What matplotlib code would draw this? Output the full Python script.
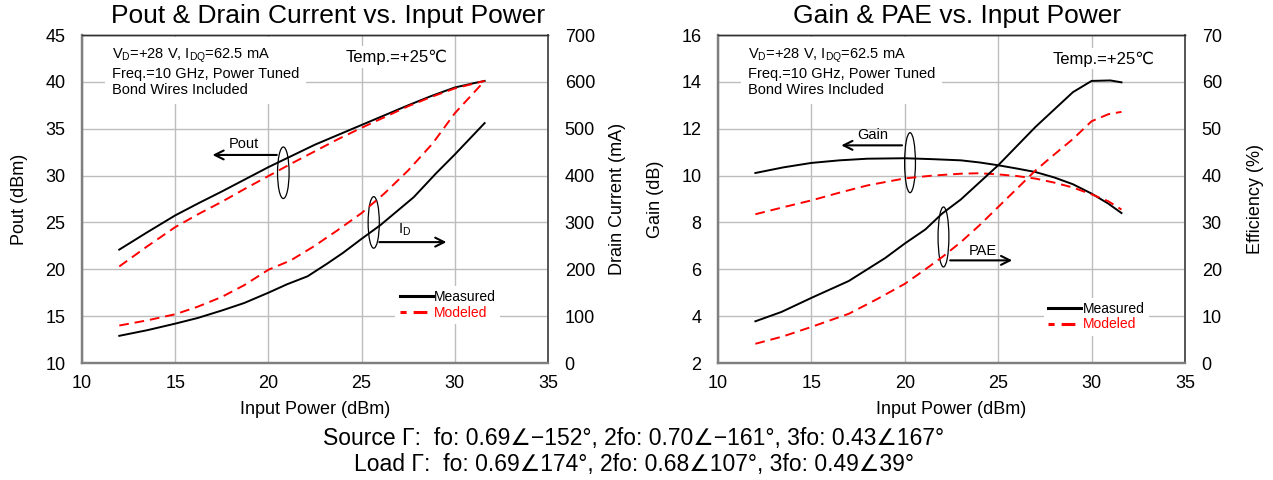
import matplotlib
matplotlib.use("Agg")
import matplotlib.pyplot as plt
from matplotlib.patches import Ellipse

plt.rcParams['font.family'] = ['Liberation Sans', 'DejaVu Sans']
plt.rcParams['mathtext.fontset'] = 'custom'
plt.rcParams['mathtext.rm'] = 'Liberation Sans'
plt.rcParams['mathtext.it'] = 'Liberation Sans'

# ---------------- data ----------------
# Left chart: Pout (dBm) and Drain current (mA) vs input power (dBm)
pout_meas_x = [12.0, 13.5, 15.0, 16.25, 17.5, 18.75, 20.0, 21.25, 22.5, 23.75, 25.0, 26.25, 27.5, 28.75, 30.0, 31.0, 31.6]
pout_meas_y = [22.1, 23.95, 25.75, 27.05, 28.3, 29.6, 30.9, 32.1, 33.3, 34.35, 35.4, 36.45, 37.5, 38.5, 39.4, 39.85, 40.1]
pout_mod_x = [12.0, 13.5, 15.0, 16.25, 17.5, 18.75, 20.0, 21.25, 22.5, 23.75, 25.0, 26.25, 27.5, 28.75, 30.0, 31.0, 31.6]
pout_mod_y = [20.3, 22.45, 24.5, 25.9, 27.2, 28.6, 29.95, 31.3, 32.6, 33.9, 35.1, 36.25, 37.4, 38.4, 39.3, 39.8, 40.1]
id_meas_x = [12.0, 13.5, 15.0, 16.2, 17.5, 18.7, 20.0, 21.0, 22.1, 23.15, 24.0, 25.0, 26.0, 27.8, 29.0, 30.0, 31.6]
id_meas_y = [58, 70, 84, 96, 112, 128, 150, 168, 185, 212, 235, 265, 294, 354, 405, 445, 512]
id_mod_x = [12.0, 13.5, 15.0, 16.2, 17.5, 18.7, 20.0, 21.2, 22.4, 23.7, 25.0, 26.2, 27.5, 28.8, 30.0, 31.6]
id_mod_y = [80, 91, 104, 120, 141, 166, 199, 219, 248, 283, 320, 361, 411, 468, 533, 602]

# Right chart: Gain (dB) and PAE (%) vs input power (dBm)
gain_meas_x = [12.0, 13.5, 15.0, 16.5, 18.0, 20.0, 21.5, 23.0, 24.0, 25.0, 26.0, 27.0, 28.0, 29.0, 30.0, 30.9, 31.6]
gain_meas_y = [10.11, 10.35, 10.54, 10.65, 10.72, 10.74, 10.70, 10.65, 10.56, 10.44, 10.30, 10.15, 9.92, 9.63, 9.23, 8.80, 8.40]
gain_mod_x = [12.0, 13.5, 15.0, 16.5, 18.0, 20.0, 21.5, 23.0, 24.0, 25.0, 26.0, 27.0, 28.0, 29.0, 30.0, 30.9, 31.6]
gain_mod_y = [8.35, 8.65, 8.94, 9.27, 9.58, 9.88, 10.00, 10.08, 10.10, 10.05, 9.98, 9.87, 9.70, 9.49, 9.20, 8.90, 8.55]
pae_meas_x = [12.0, 13.4, 15.0, 17.0, 18.95, 20.0, 21.1, 22.0, 23.0, 25.0, 27.0, 29.0, 30.0, 31.0, 31.6]
pae_meas_y = [8.9, 10.9, 13.9, 17.5, 22.4, 25.5, 28.5, 31.9, 34.9, 42.2, 50.4, 57.8, 60.2, 60.3, 59.9]
pae_mod_x = [12.0, 13.5, 15.0, 17.0, 18.5, 20.0, 21.0, 22.0, 23.0, 24.0, 25.0, 26.0, 27.0, 28.0, 29.0, 30.0, 30.9, 31.6]
pae_mod_y = [4.1, 5.7, 7.7, 10.5, 13.6, 16.9, 19.7, 22.6, 25.8, 29.4, 33.3, 37.2, 41.1, 44.5, 47.8, 51.6, 53.1, 53.6]

x_ticks = [10, 15, 20, 25, 30, 35]
pout_ticks = [10, 15, 20, 25, 30, 35, 40, 45]
id_ticks = [0, 100, 200, 300, 400, 500, 600, 700]
gain_ticks = [2, 4, 6, 8, 10, 12, 14, 16]
eff_ticks = [0, 10, 20, 30, 40, 50, 60, 70]

titles = ["Pout & Drain Current vs. Input Power", "Gain & PAE vs. Input Power"]
cond_text = ("V$_\\mathrm{D}$=+28 V, I$_\\mathrm{DQ}$=62.5 mA\n"
             "Freq.=10 GHz, Power Tuned\nBond Wires Included")
temp_text = "Temp.=+25\u2103"
source_text = "Source \u0393:  fo: 0.69\u2220\u2212152\u00b0, 2fo: 0.70\u2220\u2212161\u00b0, 3fo: 0.43\u2220167\u00b0"
load_text = "Load \u0393:  fo: 0.69\u2220174\u00b0, 2fo: 0.68\u2220107\u00b0, 3fo: 0.49\u222039\u00b0"

# ---------------- figure ----------------
W, H = 1273, 480
fig = plt.figure(figsize=(W / 100, H / 100), dpi=100)

def px_ax(x0, x1, ytop, ybot):
    return fig.add_axes([x0 / W, 1 - ybot / H, (x1 - x0) / W, (ybot - ytop) / H])

axL = px_ax(82, 548, 35, 363)
axR = px_ax(718, 1185, 35, 363)
axL2 = axL.twinx()
axR2 = axR.twinx()

TICKFS = 13
LW = 1.4
DASH = (0, (5, 3))

def style(ax, ax2):
    for a in (ax, ax2):
        a.tick_params(length=0, labelsize=TICKFS)
        a.tick_params(axis='y', pad=12)
        a.tick_params(axis='x', pad=9)
    ax.grid(True, color='#bdbdbd', lw=1.0)
    ax.set_axisbelow(True)
    for a in (ax, ax2):
        a.spines['left'].set_color('#7f7f7f')
        a.spines['bottom'].set_color('#7f7f7f')
        a.spines['left'].set_linewidth(1.6)
        a.spines['bottom'].set_linewidth(1.6)
        a.spines['top'].set_color('#303030')
        a.spines['right'].set_color('#555555')
        a.spines['top'].set_linewidth(1.0)
        a.spines['right'].set_linewidth(1.2)

# ----- left chart -----
style(axL, axL2)
axL.set_xlim(10, 35)
axL.set_ylim(10, 45)
axL2.set_ylim(0, 700)
axL.set_xticks(x_ticks)
axL.set_yticks(pout_ticks)
axL2.set_yticks(id_ticks)

axL.plot(pout_meas_x, pout_meas_y, color='black', lw=LW)
axL.plot(pout_mod_x, pout_mod_y, color='red', lw=LW, ls=DASH)
axL2.plot(id_meas_x, id_meas_y, color='black', lw=LW)
axL2.plot(id_mod_x, id_mod_y, color='red', lw=LW, ls=DASH)

axL.add_patch(Ellipse((20.8, 30.3), 0.62, 5.5, fill=False, ec='black', lw=0.9))
axL.annotate("", xy=(16.85, 32.2), xytext=(20.6, 32.2),
             arrowprops=dict(arrowstyle='->', color='black', lw=1.5, mutation_scale=16))
axL.text(18.7, 32.6, "Pout", fontsize=10.5, ha='center', va='bottom')
axL.add_patch(Ellipse((25.65, 25.0), 0.6, 5.5, fill=False, ec='black', lw=0.9))
axL.annotate("", xy=(29.7, 22.9), xytext=(25.8, 22.9),
             arrowprops=dict(arrowstyle='->', color='black', lw=1.5, mutation_scale=16))
axL.text(27.3, 23.3, "I$_\\mathrm{D}$", fontsize=10.5, ha='center', va='bottom')

# ----- right chart -----
style(axR, axR2)
axR.set_xlim(10, 35)
axR.set_ylim(2, 16)
axR2.set_ylim(0, 70)
axR.set_xticks(x_ticks)
axR.set_yticks(gain_ticks)
axR2.set_yticks(eff_ticks)

axR.plot(gain_meas_x, gain_meas_y, color='black', lw=LW)
axR.plot(gain_mod_x, gain_mod_y, color='red', lw=LW, ls=DASH)
axR2.plot(pae_meas_x, pae_meas_y, color='black', lw=LW)
axR2.plot(pae_mod_x, pae_mod_y, color='red', lw=LW, ls=DASH)

axR.add_patch(Ellipse((20.28, 10.55), 0.58, 2.56, fill=False, ec='black', lw=0.9))
axR.annotate("", xy=(16.45, 11.29), xytext=(20.0, 11.29),
             arrowprops=dict(arrowstyle='->', color='black', lw=1.5, mutation_scale=16))
axR.text(18.3, 11.42, "Gain", fontsize=10.5, ha='center', va='bottom')
axR.add_patch(Ellipse((22.07, 7.38), 0.58, 2.56, fill=False, ec='black', lw=0.9))
axR.annotate("", xy=(25.9, 6.38), xytext=(22.28, 6.38),
             arrowprops=dict(arrowstyle='->', color='black', lw=1.5, mutation_scale=16))
axR.text(24.2, 6.5, "PAE", fontsize=10.5, ha='center', va='bottom')

# ----- texts, legends -----
for ax, ax2, tx, ty, lx, ly in ((axL, axL2, 0.674, 0.933, 0.785, 0.177),
                                (axR, axR2, 0.825, 0.927, 0.81, 0.141)):
    ax2.text(0.064, 0.963, cond_text, transform=ax.transAxes, fontsize=10.5,
             va='top', ha='left', linespacing=1.15,
             bbox=dict(facecolor='white', edgecolor='none', pad=5))
    ax2.text(tx, ty, temp_text, transform=ax.transAxes, fontsize=12,
             va='center', ha='center',
             bbox=dict(facecolor='white', edgecolor='none', pad=2))
    h1 = plt.Line2D([], [], color='black', lw=2.2)
    h2 = plt.Line2D([], [], color='red', lw=2.2, ls=(2.5, (4.5, 2.3)))
    leg = ax2.legend([h1, h2], ["Measured", "Modeled"], loc='center',
                     bbox_to_anchor=(lx, ly), bbox_transform=ax.transAxes,
                     frameon=True, fontsize=10, handlelength=2.4,
                     handletextpad=0.1, labelspacing=0.1, borderpad=0.3,
                     borderaxespad=0)
    leg.get_frame().set_edgecolor('none')
    leg.get_frame().set_facecolor('white')
    leg.get_frame().set_alpha(1)
    leg.get_texts()[1].set_color('red')

# axis labels
LABFS = 13
fig.text(20 / W, 1 - 199 / H, "Pout (dBm)", rotation=90, ha='center', va='center', fontsize=LABFS)
fig.text(617 / W, 1 - 199 / H, "Drain Current (mA)", rotation=90, ha='center', va='center', fontsize=LABFS)
fig.text(655 / W, 1 - 199 / H, "Gain (dB)", rotation=90, ha='center', va='center', fontsize=LABFS)
fig.text(1255 / W, 1 - 199 / H, "Efficiency (%)", rotation=90, ha='center', va='center', fontsize=LABFS)
fig.text(315 / W, 1 - 409 / H, "Input Power (dBm)", ha='center', va='center', fontsize=LABFS)
fig.text(951 / W, 1 - 409 / H, "Input Power (dBm)", ha='center', va='center', fontsize=LABFS)

# titles
fig.text(328 / W, 1 - 16 / H, titles[0], ha='center', va='center', fontsize=19)
fig.text(957 / W, 1 - 16 / H, titles[1], ha='center', va='center', fontsize=19)

# bottom lines
fig.text(634 / W, 1 - 438 / H, source_text, ha='center', va='center', fontsize=16.5)
fig.text(634 / W, 1 - 465 / H, load_text, ha='center', va='center', fontsize=16.5)

fig.savefig("out.png", dpi=100)
